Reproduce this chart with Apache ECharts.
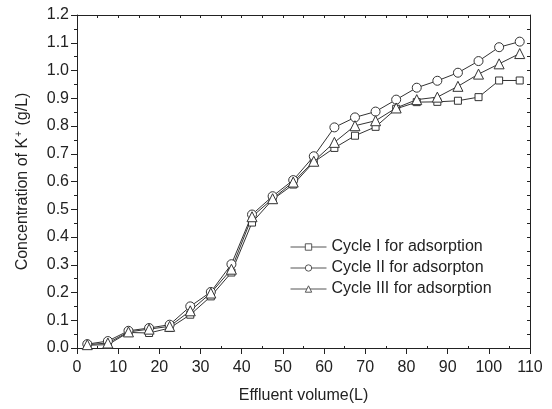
<!DOCTYPE html>
<html>
<head>
<meta charset="utf-8">
<title>Concentration of K+ vs effluent volume</title>
<script src="https://cdn.jsdelivr.net/npm/echarts@6/dist/echarts.min.js"></script>
<style>
  html, body { margin: 0; padding: 0; background: #fff; }
  #chart { width: 552px; height: 409px; }
</style>
</head>
<body>
<div id="chart"></div>
<script>
// Effluent volume (L) at each sampling point
const volumes = [2.5, 7.5, 12.5, 17.5, 22.5, 27.5, 32.5, 37.5, 42.5, 47.5, 52.5,
                 57.5, 62.5, 67.5, 72.5, 77.5, 82.5, 87.5, 92.5, 97.5, 102.5, 107.5];

// K+ concentration (g/L) in the effluent for each adsorption cycle
const cycleI = [0.010, 0.012, 0.056, 0.054, 0.072, 0.120, 0.186, 0.272, 0.452, 0.535, 0.589,
                0.670, 0.721, 0.765, 0.797, 0.862, 0.886, 0.887, 0.891, 0.904, 0.964, 0.964];
const cycleII = [0.014, 0.025, 0.062, 0.072, 0.084, 0.150, 0.202, 0.302, 0.481, 0.547, 0.605,
                 0.691, 0.795, 0.831, 0.852, 0.895, 0.938, 0.963, 0.992, 1.034, 1.084, 1.104];
const cycleIII = [0.012, 0.018, 0.058, 0.068, 0.078, 0.134, 0.198, 0.284, 0.473, 0.538, 0.598,
                  0.673, 0.741, 0.801, 0.819, 0.865, 0.895, 0.904, 0.943, 0.987, 1.024, 1.061];

const seriesNames = ['Cycle I for adsorption', 'Cycle II for adsorpton', 'Cycle III for adsorption'];
const xTitle = 'Effluent volume(L)';
const yTitle = 'Concentration of K{sup|+} (g/L)';

const FONT = '"Liberation Sans", Arial, Helvetica, sans-serif';
const INK = '#222';

function pairs(ys) {
  return volumes.map((v, i) => [v, ys[i]]);
}

function lineSeries(name, ys, symbol, size) {
  return {
    name: name,
    type: 'line',
    xAxisIndex: 0,
    yAxisIndex: 0,
    data: pairs(ys),
    symbol: symbol,
    symbolSize: size,
    showAllSymbol: true,
    lineStyle: { color: '#333', width: 1 },
    itemStyle: { color: '#fff', borderColor: '#333', borderWidth: 1 },
    emphasis: { disabled: true },
    z: 3
  };
}

const gridRect = { left: 77, right: 22, top: 15, bottom: 60 };
const axisLine = { show: true, lineStyle: { color: INK, width: 1 } };
const noSplit = { show: false };

const chart = echarts.init(document.getElementById('chart'), null, { renderer: 'canvas' });
chart.setOption({
  animation: false,
  backgroundColor: '#fff',
  textStyle: { fontFamily: FONT, color: INK },
  grid: [
    Object.assign({}, gridRect),
    Object.assign({}, gridRect)
  ],
  legend: {
    orient: 'vertical',
    left: 285,
    top: 234,
    itemWidth: 36,
    itemHeight: 8,
    itemGap: 5,
    data: seriesNames,
    lineStyle: { width: 1, color: '#555' },
    itemStyle: { color: '#fff', borderColor: '#555', borderWidth: 1 },
    textStyle: { fontFamily: FONT, fontSize: 16, color: INK },
    selectedMode: false
  },
  xAxis: [
    {
      // main bottom axis: labels and outward major ticks
      gridIndex: 0,
      type: 'value',
      position: 'bottom',
      min: 0, max: 110, interval: 10,
      axisLine: axisLine,
      axisTick: { show: true, inside: false, length: 6, lineStyle: { color: INK } },
      minorTick: { show: false },
      axisLabel: { margin: 12, fontSize: 16, color: INK, fontFamily: FONT },
      splitLine: noSplit,
      name: xTitle,
      nameLocation: 'middle',
      nameGap: 40,
      nameTextStyle: { fontSize: 16, color: INK, fontFamily: FONT }
    },
    {
      // inward minor ticks along the bottom edge
      gridIndex: 1,
      type: 'value',
      position: 'bottom',
      min: 0, max: 110, interval: 10,
      axisLine: { show: false },
      axisTick: { show: false, inside: true },
      minorTick: { show: true, splitNumber: 2, length: 3, lineStyle: { color: INK } },
      axisLabel: { show: false },
      splitLine: noSplit
    },
    {
      // top frame edge
      gridIndex: 1,
      type: 'value',
      position: 'top',
      min: 0, max: 110, interval: 10,
      axisLine: axisLine,
      axisTick: { show: true, inside: true, length: 3, lineStyle: { color: INK } },
      minorTick: { show: true, splitNumber: 2, length: 3, lineStyle: { color: INK } },
      axisLabel: { show: false },
      splitLine: noSplit
    }
  ],
  yAxis: [
    {
      gridIndex: 0,
      type: 'value',
      position: 'left',
      min: 0, max: 1.2, interval: 0.1,
      axisLine: axisLine,
      axisTick: { show: true, inside: false, length: 6, lineStyle: { color: INK } },
      minorTick: { show: true, splitNumber: 2, length: 3, lineStyle: { color: INK } },
      axisLabel: {
        margin: 8, fontSize: 16, color: INK, fontFamily: FONT,
        formatter: v => v.toFixed(1)
      },
      splitLine: noSplit,
      name: yTitle,
      nameLocation: 'middle',
      nameGap: 45,
      nameTextStyle: {
        fontSize: 16, color: INK, fontFamily: FONT,
        rich: {
          sup: { fontSize: 10, fontFamily: FONT, color: INK, verticalAlign: 'top', padding: [0, 1, 8, 1] }
        }
      }
    },
    {
      // right frame edge
      gridIndex: 0,
      type: 'value',
      position: 'right',
      min: 0, max: 1.2, interval: 0.1,
      axisLine: axisLine,
      axisTick: { show: true, inside: true, length: 3, lineStyle: { color: INK } },
      minorTick: { show: true, splitNumber: 2, length: 3, lineStyle: { color: INK } },
      axisLabel: { show: false },
      splitLine: noSplit
    },
    {
      gridIndex: 1,
      type: 'value',
      min: 0, max: 1,
      show: false,
      splitLine: noSplit
    }
  ],
  series: [
    lineSeries(seriesNames[0], cycleI, 'rect', 7),
    lineSeries(seriesNames[1], cycleII, 'circle', 9),
    lineSeries(seriesNames[2], cycleIII, 'triangle', 10)
  ]
});
</script>
</body>
</html>
